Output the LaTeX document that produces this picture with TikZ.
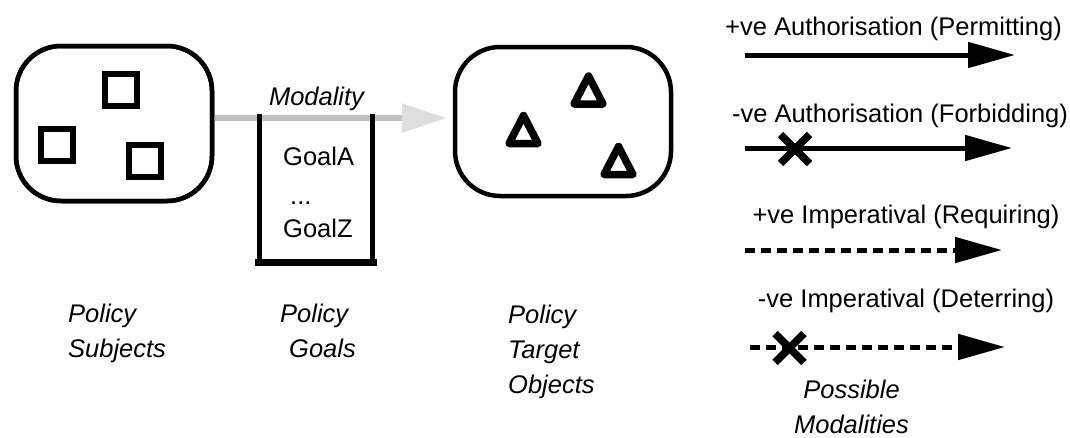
\documentclass[tikz,border=0pt]{standalone}
\usepackage{fontspec}
\setmainfont{Liberation Sans}
\usetikzlibrary{arrows.meta}
\definecolor{linegray}{RGB}{192,192,192}
\definecolor{headgray}{RGB}{222,222,222}
\begin{document}
\begin{tikzpicture}[x=1pt,y=-1pt,
  font=\fontsize{25.5}{35}\selectfont,
  ital/.style={font=\fontsize{25.5}{35}\selectfont\itshape},
  region/.style={draw,line width=4.5pt,rounded corners=45pt,inner sep=0pt},
  sq/.style={draw,line width=6pt,minimum size=32pt,inner sep=0pt},
  lbl/.style={anchor=base west,inner sep=0pt},
  leg/.style={anchor=base,inner sep=0pt},
  legarrow/.style={line width=5pt,-{Triangle[length=47pt 0 0,width=25pt 0 0]}},
  dasharrow/.style={legarrow,dash pattern=on 10pt off 6pt},
  tri/.pic={\draw[line width=7.5pt,line join=round] (-14.5,14) -- (0,-14) -- (14.5,14) -- cycle;},
  crossmark/.pic={\draw[line width=7.5pt] (-14.5,-14.5) -- (14.5,14.5) (-14.5,14.5) -- (14.5,-14.5);}
]
\useasboundingbox (0,0) rectangle (1070,437);

% regions
\node[region,minimum width=196pt,minimum height=155pt] (subj) at (114,123.5) {};
\node[region,minimum width=216pt,minimum height=149pt] (targ) at (563,121.5) {};

% modality arrow
\draw[line width=6pt,linegray,shorten >=6pt,-{Triangle[length=45pt 0 0,width=28pt 0 0,color=headgray]}]
  ([yshift=5.5pt]subj.east) -- ([yshift=3.5pt]targ.west);
\node[leg] (modal) at (316.5,105) {\itshape Modality};

% redraw region border over the gray line
\node[region,minimum width=196pt,minimum height=155pt] at (114,123.5) {};

% squares
\node[sq] (s1) at (120.5,90) {};
\node[sq] (s2) at (57,145) {};
\node[sq] (s3) at (145,160.5) {};

% triangles
\pic at (588.5,90) {tri};
\pic at (523.5,129.5) {tri};
\pic at (618.5,160.5) {tri};

% goals box
\node[minimum width=112pt,minimum height=148pt,inner sep=0pt] (goals) at (316,188) {};
\draw[line width=5pt] (goals.north west) -- (goals.south west)
  (goals.north east) -- (goals.south east);
\draw[line width=7pt] ([xshift=-4.5pt]goals.south west) -- ([xshift=4.5pt]goals.south east);
\node[lbl] (ga) at (283,165) {GoalA};
\node[lbl] (gd) at (290,204) {...};
\node[lbl] (gz) at (283,237) {GoalZ};

% bottom labels (base = last line)
\node[lbl,ital,align=left] (subjlbl) at (68,357) {Policy\\Subjects};
\node[lbl,ital,align=left] (goallbl) at (280,357) {Policy\\\hspace*{9pt}Goals};
\node[lbl,ital,align=left] (targlbl) at (508,393) {Policy\\Target\\Objects};

% legend
\node[leg] (t1) at (893.5,35) {+ve Authorisation (Permitting)};
\node[leg] (t2) at (900,122) {-ve Authorisation (Forbidding)};
\node[leg] (t3) at (906,223) {+ve Imperatival (Requiring)};
\node[leg] (t4) at (906,307) {-ve Imperatival (Deterring)};

\coordinate (a1s) at (745,55);  \coordinate (a1e) at (1015,55);
\coordinate (a2s) at (745,148); \coordinate (a2e) at (1012,148);
\coordinate (a3s) at (745,250); \coordinate (a3e) at (1002,250);
\coordinate (a4s) at (750,347); \coordinate (a4e) at (1005,347);

\draw[legarrow] (a1s) -- (a1e);
\draw[legarrow] (a2s) -- (a2e);
\draw[dasharrow] (a3s) -- (a3e);
\draw[dasharrow] (a4s) -- (a4e);
\pic at (795,149) {crossmark};
\pic at (789.5,348) {crossmark};

\node[anchor=base,inner sep=0pt,ital,align=center] (pm) at (851.5,433) {Possible\\Modalities};
\end{tikzpicture}
\end{document}
